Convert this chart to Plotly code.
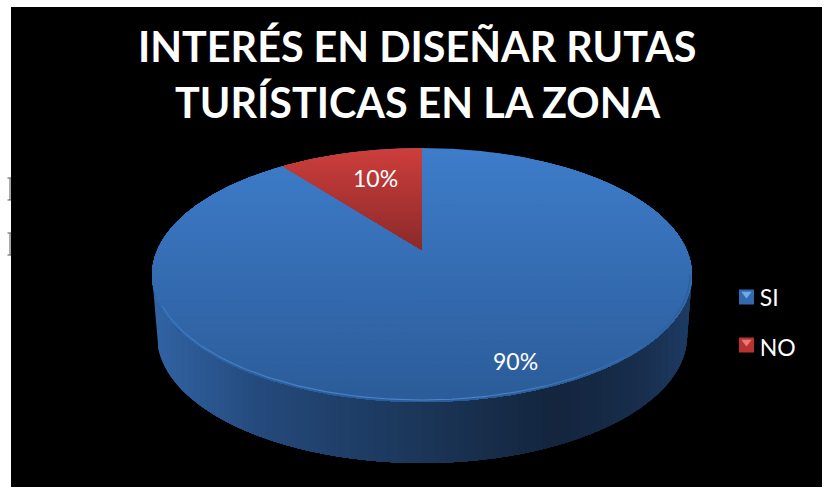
import numpy as np
import plotly.graph_objects as go

# data
categories = ["SI", "NO"]
values = [90, 10]
title_lines = ["INTERÉS EN DISEÑAR RUTAS", "TURÍSTICAS EN LA ZONA"]

W, H = 827, 488
PANEL = dict(l=11, r=822, t=7, b=487)
CX, CY, A, B = 422, 275, 270, 127      # top ellipse
APEX_Y = 250                            # perspective centre of the pie
DEPTH, A2 = 61, 265                     # wall depth and width of bottom rim
SLICE_SCALE = 1.04                      # small widening of the far slice, as drawn in the source
k = (CY - APEX_Y) / B


def lerp(stops, t):
    xs = [s[0] for s in stops]
    return "rgb(%d,%d,%d)" % tuple(np.interp(t, xs, [s[1][i] for s in stops]) for i in range(3))


def pie_point(frac):
    """Fraction of the turn (clockwise from the top) -> projected picture point."""
    th = 2 * np.pi * (1 - (1 - np.asarray(frac)) * SLICE_SCALE)
    x, y = np.sin(th), np.cos(th)
    d = 1 + k * y
    return CX + A * x * np.sqrt(1 - k * k) / d, CY - B * (y + k) / d


def add_poly(fig, xs, ys, color):
    fig.add_trace(go.Scatter(x=list(xs), y=list(ys), mode="lines", fill="toself", fillcolor=color,
                             line=dict(width=0, color=color), hoverinfo="skip", showlegend=False))


fig = go.Figure()

# outer wall: painted left to right so no seams appear
wall_stops = [(152, (50, 100, 165)), (265, (36, 73, 122)), (424, (27, 54, 88)),
              (557, (20, 37, 61)), (640, (24, 46, 76)), (692, (30, 60, 100))]
tt = np.linspace(np.pi, 2 * np.pi, 240)
out_x = np.concatenate([[CX - A], CX + A2 * np.cos(tt), [CX + A]])
out_y = np.concatenate([[CY], CY + DEPTH - B * np.sin(tt), [CY]])
for x0 in np.arange(CX - A, CX + A, 6):
    m = out_x >= x0
    y0 = np.interp(x0, out_x, out_y)
    add_poly(fig, np.r_[x0, out_x[m], x0], np.r_[y0, out_y[m], CY], lerp(wall_stops, x0 + 3))

# top face, blue: painted top to bottom
blue_stops = [(CY - B, (62, 125, 203)), (CY + B, (44, 92, 153))]
t_all = np.linspace(0, 2 * np.pi, 720)
ex, ey = CX + A * np.sin(t_all), CY - B * np.cos(t_all)
for y0 in np.arange(CY - B, CY + B, 4):
    half = A * np.sqrt(max(0, 1 - ((y0 - CY) / B) ** 2))
    m = ey >= y0
    pts = np.column_stack([ex[m], ey[m]])
    order = np.argsort(-np.arctan2(pts[:, 0] - CX, pts[:, 1] - CY))
    add_poly(fig, np.r_[CX - half, pts[order, 0], CX + half], np.r_[y0, pts[order, 1], y0],
             lerp(blue_stops, y0 + 2))

# light rim along the lower-left edge of the top face
rim = np.linspace(np.pi * 1.08, 2 * np.pi, 25)
for i in range(len(rim) - 1):
    fade = i / (len(rim) - 2)
    seg = np.linspace(rim[i], rim[i + 1], 12)
    c = lerp([(0, (62, 122, 192)), (0.5, (76, 135, 205)), (0.85, (48, 98, 160)), (1, (45, 93, 154))], fade)
    fig.add_trace(go.Scatter(x=CX + (A - 2) * np.cos(seg), y=CY - (B - 2) * np.sin(seg), mode="lines",
                             line=dict(width=1.2, color=c), hoverinfo="skip", showlegend=False))

# NO slice, red: from the end of SI (clockwise) up to the top
total = sum(values)
start = values[0] / total
fr = np.linspace(start, 1, 60)
sx, sy = pie_point(fr)
red_stops = [(149, (205, 62, 60)), (APEX_Y, (140, 42, 42))]
for y0 in np.arange(CY - B, APEX_Y, 3):
    if y0 < sy[0]:
        keep = sy >= y0
        px = np.r_[CX, sx[keep], CX]
        py = np.r_[APEX_Y, sy[keep], y0]
    else:
        px = np.r_[np.interp(y0, [sy[0], APEX_Y], [sx[0], CX]), CX, CX]
        py = np.r_[y0, APEX_Y, y0]
    add_poly(fig, px, py, lerp(red_stops, y0 + 1.5))

# legend: entries come from the library, the bevelled swatches are markers beside them
swatches = {"SI": ((50, 105, 175), (110, 170, 235), 297), "NO": ((185, 50, 50), (235, 120, 115), 345)}
for name in categories:
    fig.add_trace(go.Scatter(x=[None], y=[None], mode="markers", name=name, legendgroup=name,
                             marker=dict(symbol="square", size=14, color="rgba(0,0,0,0)")))
for name in categories:
    base, light, yy = swatches[name]
    fig.add_trace(go.Scatter(x=[746.5], y=[yy], mode="markers", showlegend=False, hoverinfo="skip",
                             marker=dict(symbol="square", size=15, color="rgb(%d,%d,%d)" % base)))
    fig.add_trace(go.Scatter(x=[746.5], y=[yy - 3], mode="markers", showlegend=False, hoverinfo="skip",
                             marker=dict(symbol="triangle-down", size=9, color="rgb(%d,%d,%d)" % light)))

title_font = dict(family="Lato", size=41.3, color="white")
label_font = dict(family="Lato", size=23, color="white")
annotations = [
    dict(x=417, y=46, text="<b>" + title_lines[0] + "</b>", showarrow=False, font=title_font),
    dict(x=417.5, y=102, text="<b>" + title_lines[1] + "</b>", showarrow=False, font=title_font),
    dict(x=375, y=178, text=f"{values[1]}%", showarrow=False, font=label_font),
    dict(x=515, y=361, text=f"{values[0]}%", showarrow=False, font=label_font),
]

# stray glyph fragments in the white margin at the left
shapes = []
for top, bot in ((178, 200), (233, 255)):
    for (x0, y0, x1, y1) in ((10, top, 10, bot), (7.5, top, 11, top), (7.5, bot, 11, bot)):
        shapes.append(dict(type="line", xref="paper", yref="paper",
                           x0=(x0 - PANEL["l"]) / (PANEL["r"] - PANEL["l"]), x1=(x1 - PANEL["l"]) / (PANEL["r"] - PANEL["l"]),
                           y0=(PANEL["b"] - y0) / (PANEL["b"] - PANEL["t"]), y1=(PANEL["b"] - y1) / (PANEL["b"] - PANEL["t"]),
                           line=dict(color="#555555", width=1)))

fig.update_layout(
    width=W, height=H, autosize=False,
    margin=dict(l=PANEL["l"], r=W - PANEL["r"], t=PANEL["t"], b=H - PANEL["b"], pad=0),
    paper_bgcolor="white", plot_bgcolor="black",
    xaxis=dict(range=[PANEL["l"], PANEL["r"]], visible=False, fixedrange=True),
    yaxis=dict(range=[PANEL["b"], PANEL["t"]], visible=False, fixedrange=True),
    annotations=annotations, shapes=shapes,
    legend=dict(x=0.874, y=0.441, xanchor="left", yanchor="top", bgcolor="rgba(0,0,0,0)", tracegroupgap=17,
                font=dict(family="Lato", size=23, color="white")),
)

fig.write_html("out.html", config=dict(displayModeBar=False),
               post_script="document.body.style.margin='0';document.documentElement.style.overflow='hidden';")
